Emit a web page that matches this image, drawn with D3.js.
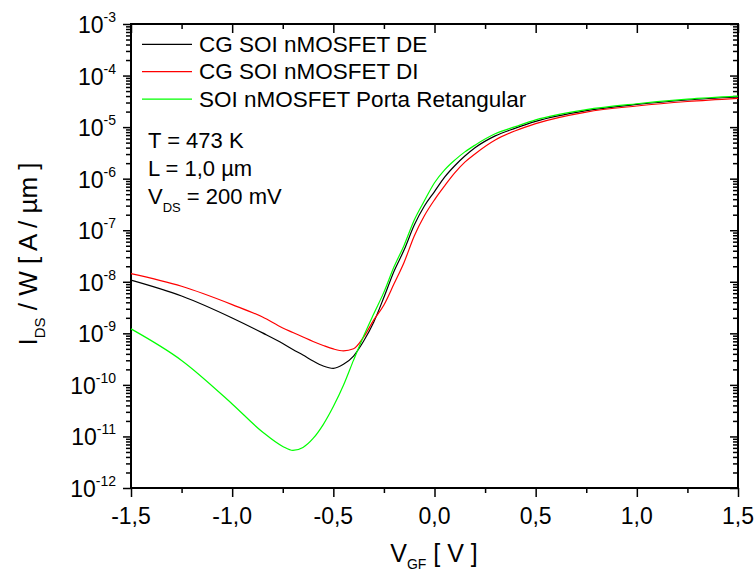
<!DOCTYPE html>
<html lang="pt">
<head>
    <meta charset="UTF-8">
    <script src="https://cdn.jsdelivr.net/npm/d3@7"></script>
    <title>IDS/W x VGF</title>
    <style>
        body { margin: 0; background: #fff; }
        svg text { font-family: "Liberation Sans", Arial, sans-serif; fill: #000; }
    </style>
</head>
<body>
    <svg id="chart" width="756" height="577"></svg>

    <script>
        // tensao de porta (V)
        const vgf = [-1.5, -1.25, -1.0, -0.85, -0.75, -0.7, -0.65, -0.6, -0.55, -0.5, -0.45, -0.4, -0.35, -0.3, -0.25,
                     -0.2, -0.15, -0.1, -0.05, 0, 0.05, 0.1, 0.15, 0.2, 0.3, 0.4, 0.5, 0.75, 1.0, 1.25, 1.5];

        // IDS/W (A/um)
        const idsDE = [1.08e-8, 5.31e-9, 1.99e-9, 1.02e-9, 6.35e-10, 4.86e-10, 3.80e-10, 2.91e-10, 2.33e-10, 2.10e-10,
                       2.51e-10, 3.63e-10, 7.08e-10, 1.66e-9, 5.00e-9, 1.60e-8, 4.17e-8, 1.26e-7, 2.95e-7, 5.62e-7,
                       1.07e-6, 1.78e-6, 2.75e-6, 3.98e-6, 6.76e-6, 9.55e-6, 1.29e-5, 2.08e-5, 2.75e-5, 3.36e-5, 3.84e-5];
        const idsDI = [1.44e-8, 8.18e-9, 3.61e-9, 2.07e-9, 1.27e-9, 1.04e-9, 8.49e-10, 6.95e-10, 5.82e-10, 4.98e-10,
                       4.57e-10, 5.01e-10, 8.51e-10, 1.82e-9, 3.55e-9, 9.12e-9, 2.40e-8, 7.76e-8, 1.91e-7, 3.89e-7,
                       7.24e-7, 1.29e-6, 2.09e-6, 3.02e-6, 5.62e-6, 8.51e-6, 1.17e-5, 1.96e-5, 2.57e-5, 3.14e-5, 3.62e-5];
        const idsRet = [1.22e-9, 2.98e-10, 4.27e-11, 1.22e-11, 6.40e-12, 5.35e-12, 6.11e-12, 9.14e-12, 1.70e-11, 3.80e-11,
                        9.80e-11, 3.02e-10, 8.91e-10, 2.40e-9, 6.30e-9, 1.95e-8, 5.13e-8, 1.58e-7, 3.72e-7, 8.32e-7,
                        1.48e-6, 2.29e-6, 3.31e-6, 4.47e-6, 7.41e-6, 1.02e-5, 1.38e-5, 2.18e-5, 2.84e-5, 3.48e-5, 3.98e-5];

        const seriesNames = ['CG SOI nMOSFET DE', 'CG SOI nMOSFET DI', 'SOI nMOSFET Porta Retangular'];
        const seriesColors = ['#000000', '#ff0000', '#00ff00'];

        const xTicks = [-1.5, -1.0, -0.5, 0.0, 0.5, 1.0, 1.5];
        const yExponents = [-12, -11, -10, -9, -8, -7, -6, -5, -4, -3];

        const series = [idsDE, idsDI, idsRet].map((vals, i) => ({
            name: seriesNames[i],
            color: seriesColors[i],
            points: vgf.map((v, j) => [v, vals[j]])
        }));

        const plot = { left: 131, right: 738, top: 24, bottom: 488 };
        const svg = d3.select('#chart');

        const x = d3.scaleLinear().domain([-1.5, 1.5]).range([plot.left, plot.right]);
        const y = d3.scaleLog().domain([1e-12, 1e-3]).range([plot.bottom, plot.top]);

        const xMinor = d3.range(-1.25, 1.5, 0.5);
        const yMajor = yExponents.map(e => Math.pow(10, e));
        const yMinor = y.ticks().filter(t => Math.abs(Math.log10(t) - Math.round(Math.log10(t))) > 1e-6);

        // eixos: baixo/esquerda para fora, cima/direita para dentro
        function drawAxis(axis, transform) {
            const g = svg.append('g').attr('transform', transform).call(axis);
            g.selectAll('text').remove();
            g.select('.domain').remove();
            g.selectAll('line').attr('stroke', '#000').attr('stroke-width', 1.5);
            return g;
        }
        drawAxis(d3.axisBottom(x).tickValues(xTicks).tickSize(9), `translate(0,${plot.bottom})`);
        drawAxis(d3.axisBottom(x).tickValues(xMinor).tickSize(5), `translate(0,${plot.bottom})`);
        drawAxis(d3.axisTop(x).tickValues(xTicks).tickSize(-9), `translate(0,${plot.top})`);
        drawAxis(d3.axisTop(x).tickValues(xMinor).tickSize(-5), `translate(0,${plot.top})`);
        drawAxis(d3.axisLeft(y).tickValues(yMajor).tickSize(8), `translate(${plot.left},0)`);
        drawAxis(d3.axisLeft(y).tickValues(yMinor).tickSize(5), `translate(${plot.left},0)`);
        drawAxis(d3.axisRight(y).tickValues(yMajor).tickSize(-8), `translate(${plot.right},0)`);
        drawAxis(d3.axisRight(y).tickValues(yMinor).tickSize(-5), `translate(${plot.right},0)`);

        // moldura
        svg.append('rect')
            .attr('x', plot.left).attr('y', plot.top)
            .attr('width', plot.right - plot.left).attr('height', plot.bottom - plot.top)
            .attr('fill', 'none').attr('stroke', '#000').attr('stroke-width', 2);

        // rotulos do eixo x (virgula decimal)
        svg.append('g').selectAll('text')
            .data(xTicks).enter().append('text')
            .attr('x', d => x(d))
            .attr('y', 524)
            .attr('text-anchor', 'middle')
            .style('font-size', '23px')
            .text(d => d3.format('.1f')(d).replace('.', ',').replace('\u2212', '-'));

        // rotulos do eixo y 10^n
        const yLab = svg.append('g').selectAll('text')
            .data(yExponents).enter().append('text')
            .attr('x', 116)
            .attr('y', d => y(Math.pow(10, d)) + 9)
            .attr('text-anchor', 'end')
            .style('font-size', '23px');
        yLab.append('tspan').text('10');
        yLab.append('tspan')
            .attr('dy', -11)
            .style('font-size', '14px')
            .text(d => '-' + Math.abs(d));

        // curvas
        const line = d3.line()
            .x(d => x(d[0]))
            .y(d => y(d[1]))
            .curve(d3.curveMonotoneX);

        svg.append('g').selectAll('path')
            .data(series).enter().append('path')
            .attr('d', d => line(d.points))
            .attr('fill', 'none')
            .attr('stroke', d => d.color)
            .attr('stroke-width', 1.2);

        // legenda
        const legend = svg.append('g').selectAll('g')
            .data(series).enter().append('g')
            .attr('transform', (d, i) => `translate(142,${44.3 + i * 27.4})`);
        legend.append('line')
            .attr('x1', 0).attr('x2', 50)
            .attr('stroke', d => d.color)
            .attr('stroke-width', 1.2);
        legend.append('text')
            .attr('x', 57).attr('y', 7.5)
            .style('font-size', '22.5px')
            .text(d => d.name);

        // condicoes
        const note = svg.append('g').style('font-size', '22px');
        note.append('text').attr('x', 148).attr('y', 148).text('T = 473 K');
        note.append('text').attr('x', 148).attr('y', 176).text('L = 1,0 \u00b5m');
        const vds = note.append('text').attr('x', 148).attr('y', 204);
        vds.append('tspan').text('V');
        vds.append('tspan').attr('dy', 8).style('font-size', '13px').text('DS');
        vds.append('tspan').attr('dy', -8).text(' = 200 mV');

        // titulos dos eixos
        const xt = svg.append('text')
            .attr('x', 434).attr('y', 562)
            .attr('text-anchor', 'middle')
            .style('font-size', '25px');
        xt.append('tspan').text('V');
        xt.append('tspan').attr('dy', 7).style('font-size', '14px').text('GF');
        xt.append('tspan').attr('dy', -7).text(' [ V ]');

        const yt = svg.append('text')
            .attr('transform', 'translate(37,254) rotate(-90)')
            .attr('text-anchor', 'middle')
            .style('font-size', '26px');
        yt.append('tspan').text('I');
        yt.append('tspan').attr('dy', 8).style('font-size', '15px').text('DS');
        yt.append('tspan').attr('dy', -8).text(' / W [ A / \u00b5m ]');
    </script>
</body>
</html>
